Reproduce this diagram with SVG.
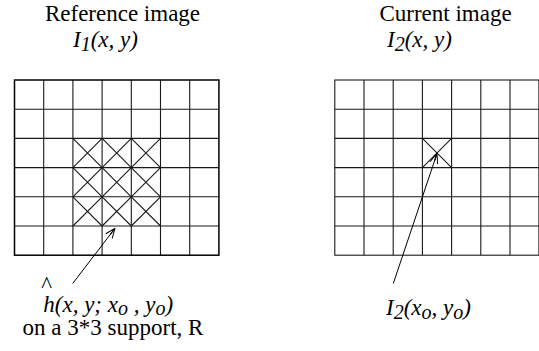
<svg xmlns="http://www.w3.org/2000/svg" width="539" height="351" viewBox="0 0 539 351">
<defs>
<style>
text{font-family:'Liberation Serif','Times New Roman','DejaVu Serif',serif;font-size:23px;fill:#000}
.i{font-style:italic}
.g{stroke:#1a1a1a;stroke-width:1.1;fill:none}
.b{stroke:#000;stroke-width:1.5;fill:none}
.x{stroke:#1a1a1a;stroke-width:1.1;fill:none}
.c{stroke:#000;stroke-width:1;fill:none}
</style>
<marker id="ah" viewBox="0 0 10 10" refX="10" refY="5" markerWidth="10" markerHeight="10" markerUnits="userSpaceOnUse" orient="auto">
<path d="M0,1 L10,5 L0,9 M2,5 L10,5" fill="none" stroke="#000" stroke-width="1"/>
</marker>
</defs>
<rect width="539" height="351" fill="#fff"/>

<g id="reference">
<text x="122.5" y="21" text-anchor="middle" font-family="Liberation Serif, serif">Reference image</text>
<text class="i" x="73" y="47" font-family="Liberation Serif, serif">I<tspan font-size="20" dy="4">1</tspan><tspan dy="-4">(x, y)</tspan></text>
<g id="grid1">
<path class="g" d="M43.7,80V255.2M72.9,80V255.2M102.1,80V255.2M131.3,80V255.2M160.5,80V255.2M189.7,80V255.2M14.5,109.2H218.9M14.5,138.4H218.9M14.5,167.6H218.9M14.5,196.8H218.9M14.5,226H218.9"/>
<rect class="b" x="14.5" y="80" width="204.4" height="175.2"/>
<path class="x" d="M72.9,138.4L102.1,167.6M102.1,138.4L72.9,167.6M102.1,138.4L131.3,167.6M131.3,138.4L102.1,167.6M131.3,138.4L160.5,167.6M160.5,138.4L131.3,167.6M72.9,167.6L102.1,196.8M102.1,167.6L72.9,196.8M102.1,167.6L131.3,196.8M131.3,167.6L102.1,196.8M131.3,167.6L160.5,196.8M160.5,167.6L131.3,196.8M72.9,196.8L102.1,226M102.1,196.8L72.9,226M102.1,196.8L131.3,226M131.3,196.8L102.1,226M131.3,196.8L160.5,226M160.5,196.8L131.3,226"/>
</g>
<text x="46.7" y="292" text-anchor="middle" font-size="20" font-family="Liberation Serif, serif">^</text>
<text class="i" x="43.3" y="312" font-family="Liberation Serif, serif">h(x, y; x<tspan font-size="20" dy="2.5">o</tspan><tspan dy="-2.5"> , y</tspan><tspan font-size="20" dy="2.5">o</tspan><tspan dy="-2.5">)</tspan></text>
<text x="113" y="335" text-anchor="middle" font-family="Liberation Serif, serif">on a 3*3 support, R</text>
</g>

<g id="current">
<text x="445.5" y="21" text-anchor="middle" font-family="Liberation Serif, serif">Current image</text>
<text class="i" x="387" y="47" font-family="Liberation Serif, serif">I<tspan font-size="20" dy="4">2</tspan><tspan dy="-4">(x, y)</tspan></text>
<g id="grid2">
<path class="g" d="M364,80V255.2M393.2,80V255.2M422.4,80V255.2M451.6,80V255.2M480.8,80V255.2M510,80V255.2M334.8,109.2H538.9M334.8,138.4H538.9M334.8,167.6H538.9M334.8,196.8H538.9M334.8,226H538.9"/>
<rect class="g" x="334.8" y="80" width="204.1" height="175.2"/>
<path class="x" d="M422.4,138.4L451.6,167.6M451.6,138.4L422.4,167.6"/>
</g>
<text class="i" x="386" y="315" font-family="Liberation Serif, serif">I<tspan font-size="20" dy="4">2</tspan><tspan dy="-4">(x</tspan><tspan font-size="20" dy="4">o</tspan><tspan dy="-4">, y</tspan><tspan font-size="20" dy="4">o</tspan><tspan dy="-4">)</tspan></text>
</g>

<g id="connectors">
<line class="c" x1="72.7" y1="283.5" x2="115" y2="228.3" marker-end="url(#ah)"/>
<line class="c" x1="393.3" y1="283.5" x2="437" y2="153.5" marker-end="url(#ah)"/>
</g>
</svg>
